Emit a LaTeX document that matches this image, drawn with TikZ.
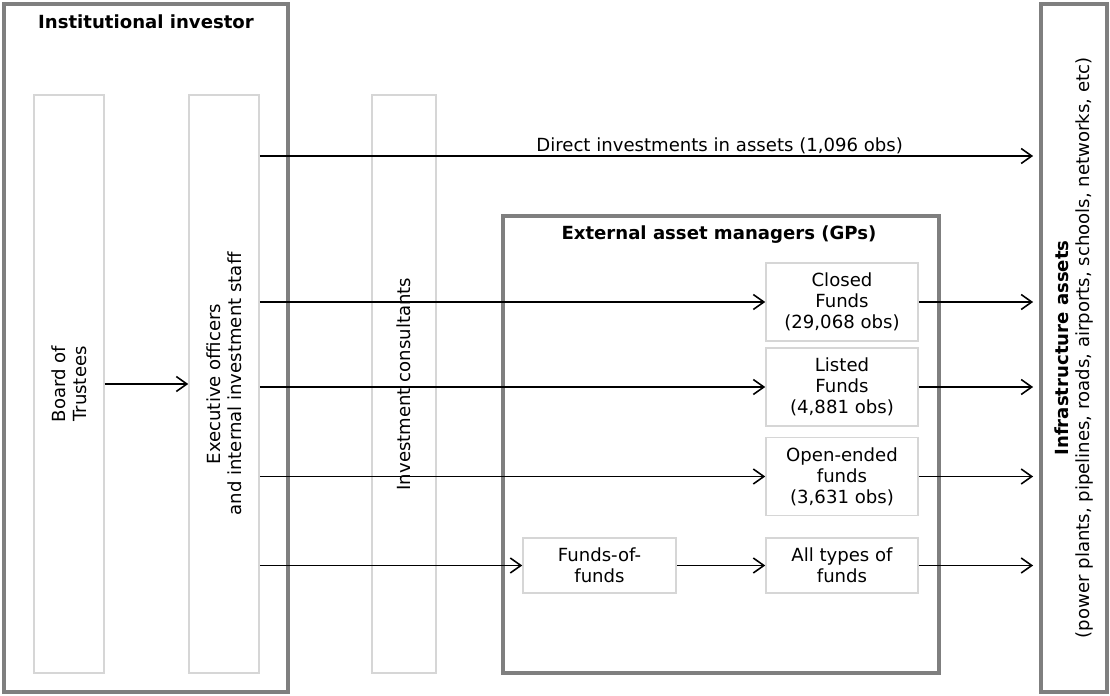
\documentclass[tikz,border=0pt]{standalone}
\usepackage{fontspec}
\setmainfont{DejaVu Sans}
\usepackage{tikz}
\usetikzlibrary{arrows.meta}
\usetikzlibrary{calc}
\definecolor{framecolor}{HTML}{7F7F7F}
\definecolor{boxcolor}{HTML}{D6D6D6}

\begin{document}
\begin{tikzpicture}[x=0.02cm,y=-0.02cm,font=\fontsize{10.3}{11.9}\selectfont,
    frame/.style={draw=framecolor,line width=2pt,inner sep=0pt},
    lightbox/.style={draw=boxcolor,line width=0.9pt,fill=white,inner sep=0pt},
    fundbox/.style={lightbox,minimum width=3.04cm,minimum height=1.56cm,align=center},
    vtext/.style={rotate=90,align=center},
    flow/.style={black,line width=0.9pt,-{Straight Barb[length=6pt,width=8.5pt]}},
    toinfra/.style={flow,shorten >=3.5pt}]
%%\draw[step=1cm,color=black!20,dotted] (0,0) grid (1110,696);
\useasboundingbox (0,0) rectangle (1110,696);

% outer frames
\node[frame,minimum width=5.68cm,minimum height=13.76cm] (investor) at (146,348) {};
\node (investortitle) at (146,22) {\bfseries Institutional investor};
\node[frame,minimum width=8.72cm,minimum height=9.14cm] (external) at (721,444.5) {};
\node (externaltitle) at (719,235) {\bfseries External asset managers (GPs)};
\node[frame,minimum width=1.32cm,minimum height=13.76cm] (infra) at (1074,348) {};
\node[vtext] (infratxt) at (infra) {{\bfseries Infrastructure assets}\\(power plants, pipelines, roads, airports, schools, networks, etc)};

% columns
\node[lightbox,minimum width=1.4cm,minimum height=11.56cm] (board) at (69,384) {};
\node[vtext] (boardtxt) at (board) {Board of\\Trustees};
\node[lightbox,minimum width=1.4cm,minimum height=11.56cm] (exec) at (224,384) {};
\node[vtext] (exectxt) at (exec) {Executive officers\\and internal investment staff};
\node[lightbox,minimum width=1.28cm,minimum height=11.56cm] (consult) at (404,384) {};
\node[vtext] (consulttxt) at (consult) {Investment consultants};

% funds
\node[fundbox] (closed) at (842,302) {Closed\\Funds\\(29,068 obs)};
\node[fundbox] (listed) at (842,387) {Listed\\Funds\\(4,881 obs)};
\node[fundbox] (open) at (842,476.5) {Open-ended\\funds\\(3,631 obs)};
\node[fundbox,minimum height=1.1cm] (alltypes) at (842,565.5) {All types of\\funds};
\node[fundbox,minimum height=1.1cm,minimum width=3.06cm] (fof) at (599.5,565.5) {Funds-of-\\funds};
\coordinate (direct) at (infra.west |- 0,156);

\draw[flow] (board) -- (exec);
\draw[toinfra] (exec.east |- direct) -- (direct) node[pos=0.59,above,inner sep=1pt] (directtxt) {Direct investments in assets (1,096 obs)};
\foreach \f in {closed,listed,open}
    \draw[flow] (exec.east |- \f.west) -- (\f.west);
\draw[flow] (exec.east |- fof.west) -- (fof.west);
\draw[flow] (fof) -- (alltypes);
\foreach \f in {closed,listed,open,alltypes}
    \draw[toinfra] (\f.east) -- (\f.east -| infra.west);
\end{tikzpicture}
\end{document}
